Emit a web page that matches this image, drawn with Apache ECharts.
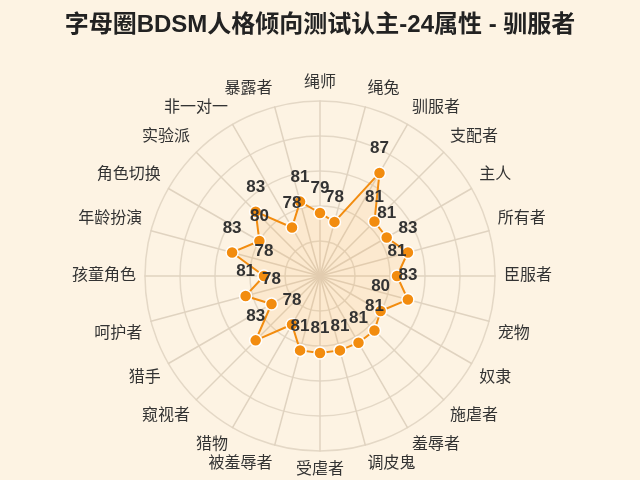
<!DOCTYPE html>
<html>
<head>
<meta charset="utf-8">
<script src="https://cdn.jsdelivr.net/npm/echarts@6/dist/echarts.min.js"></script>
<style>html,body{margin:0;padding:0;background:#fdf3e3;}#c{width:640px;height:480px;}</style>
</head>
<body>
<div id="c"></div>
<script>
// Indicators listed clockwise from the top
var categories = ['绳师','绳兔','驯服者','支配者','主人','所有者','臣服者','宠物','奴隶','施虐者','羞辱者','调皮鬼','受虐者','被羞辱者','猎物','窥视者','猎手','呵护者','孩童角色','年龄扮演','角色切换','实验派','非一对一','暴露者'];
var values = [79,78,87,81,81,83,81,83,80,81,81,81,81,81,78,83,78,81,78,83,80,83,78,81];
var axisMin = 70;
var axisMax = 95;
var titleText = '字母圈BDSM人格倾向测试认主-24属性 - 驯服者';

// ECharts radar runs counter-clockwise; reorder so the picture reads clockwise
function cw(arr){ return [arr[0]].concat(arr.slice(1).reverse()); }
var cats = cw(categories);
var vals = cw(values);

// Names in the upper half sit above their spoke end, lower half below
function nameFmt(name){
  var i = categories.indexOf(name);
  var n = categories.length;
  if (i === 0 || i === n / 2 || i === n / 4 || i === 3 * n / 4) return name;
  if (i < n / 4 || i > 3 * n / 4) return name + '\n';
  return '\n' + name;
}

var FONT = "'Liberation Sans','Noto Sans CJK SC',sans-serif";
var chart = echarts.init(document.getElementById('c'), null, {renderer:'canvas'});
chart.setOption({
  backgroundColor: '#fdf3e3',
  title: {
    text: titleText, left: 'center', top: 8,
    textStyle: {fontSize: 24, fontWeight: 'bold', color: '#222', fontFamily: FONT}
  },
  radar: {
    center: ['50%', 276],
    radius: 175,
    startAngle: 90,
    shape: 'circle',
    splitNumber: 5,
    nameGap: 9,
    axisName: {color: '#333', fontSize: 16, lineHeight: 19, fontFamily: FONT, formatter: nameFmt},
    indicator: cats.map(function(n){ return {name: n, min: axisMin, max: axisMax}; }),
    splitLine: {lineStyle: {color: '#e4d8c6', width: 1.5}},
    splitArea: {show: false},
    axisLine: {lineStyle: {color: '#e0d3c0', width: 1.5}}
  },
  series: [{
    type: 'radar',
    symbol: 'circle',
    symbolSize: 12,
    itemStyle: {color: '#f28c0f', borderColor: '#fff', borderWidth: 1.5},
    lineStyle: {color: '#f28c0f', width: 2},
    areaStyle: {color: 'rgba(243,150,40,0.15)'},
    label: {show: true, position: 'top', distance: 9, fontSize: 17, fontWeight: 'bold', color: '#333', fontFamily: FONT},
    data: [{value: vals, name: '驯服者'}]
  }]
});
</script>
</body>
</html>
